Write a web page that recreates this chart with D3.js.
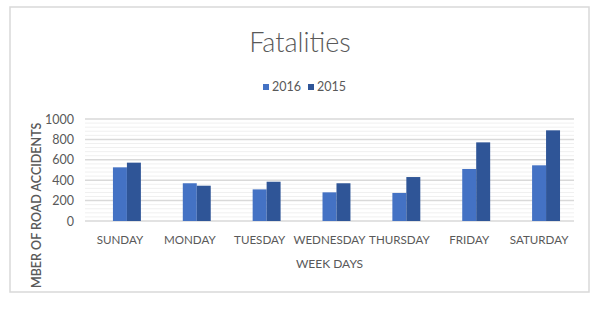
<!DOCTYPE html>
<html>
<head>
<meta charset="utf-8">
<script src="https://cdn.jsdelivr.net/npm/d3@7"></script>
<style>
  body { margin: 0; background: #fff; }
  text { font-family: Lato, "Open Sans", sans-serif; fill: #595959; }
</style>
</head>
<body>
<div id="chart"></div>
<script>
// Chart data
const days = ["SUNDAY", "MONDAY", "TUESDAY", "WEDNESDAY", "THURSDAY", "FRIDAY", "SATURDAY"];
const years = ["2016", "2015"];
const fatalities2016 = [526, 370, 310, 281, 275, 510, 546];
const fatalities2015 = [572, 346, 385, 370, 431, 771, 889];
const yTicks = [0, 200, 400, 600, 800, 1000];
const colors = ["#4472C4", "#2F5597"];

const width = 598;
const height = 311;

const svg = d3.select("#chart")
    .append("svg")
    .attr("width", width)
    .attr("height", height);

// outer chart border
svg.append("rect")
    .attr("x", 10)
    .attr("y", 7)
    .attr("width", 579)
    .attr("height", 285)
    .attr("fill", "#fff")
    .attr("stroke", "#d9d9d9")
    .attr("stroke-width", 1.5);

// plot area
const plot = { left: 85, right: 574, top: 119, bottom: 221 };

const x0 = d3.scaleBand()
    .domain(days)
    .range([plot.left, plot.right])
    .paddingInner(0.4)
    .paddingOuter(0.2);

// bars sit in the right two thirds of each group (first slot is empty in the original)
const x1 = d3.scaleBand()
    .domain(years)
    .range([x0.bandwidth() / 3, x0.bandwidth()]);

const y = d3.scaleLinear()
    .domain([0, 1000])
    .range([plot.bottom, plot.top]);

// minor gridlines
svg.append("g")
    .selectAll("line")
    .data(d3.range(0, 1001, 40).filter(v => v % 200 !== 0))
    .enter().append("line")
    .attr("x1", plot.left)
    .attr("x2", plot.right)
    .attr("y1", d => y(d))
    .attr("y2", d => y(d))
    .attr("stroke", "#f0f0f0")
    .attr("stroke-width", 1);

// major gridlines
svg.append("g")
    .selectAll("line")
    .data(yTicks)
    .enter().append("line")
    .attr("x1", plot.left)
    .attr("x2", plot.right)
    .attr("y1", d => y(d))
    .attr("y2", d => y(d))
    .attr("stroke", "#d9d9d9")
    .attr("stroke-width", 1.5);

// y axis labels
const yAxis = svg.append("g")
    .attr("transform", `translate(${plot.left - 11},0)`)
    .call(d3.axisLeft(y).tickValues(yTicks).tickFormat(d3.format("d")).tickSize(0).tickPadding(0));
yAxis.select(".domain").remove();
yAxis.selectAll("text")
    .style("font-size", "12.5px")
    .style("font-family", "Lato, sans-serif")
    .attr("fill", "#595959");

// x axis labels
const xAxis = svg.append("g")
    .attr("transform", `translate(0,${plot.bottom})`)
    .call(d3.axisBottom(x0).tickSize(0).tickPadding(15));
xAxis.select(".domain").remove();
xAxis.selectAll("text")
    .style("font-size", "11.6px")
    .style("font-family", "Lato, sans-serif")
    .attr("fill", "#595959");

// bars
const series = [fatalities2016, fatalities2015];
const groups = svg.append("g")
    .selectAll("g")
    .data(days)
    .enter().append("g")
    .attr("transform", d => `translate(${x0(d)},0)`);

groups.selectAll("rect")
    .data((d, i) => years.map((yr, k) => ({ year: yr, value: series[k][i], color: colors[k] })))
    .enter().append("rect")
    .attr("x", d => x1(d.year))
    .attr("y", d => y(d.value))
    .attr("width", x1.bandwidth())
    .attr("height", d => y(0) - y(d.value))
    .attr("fill", d => d.color);

// title
svg.append("text")
    .attr("x", 300)
    .attr("y", 52)
    .attr("text-anchor", "middle")
    .style("font-size", "27px")
    .style("font-weight", 300)
    .text("Fatalities");

// legend
const legend = svg.append("g");
const legendX = [263, 308];
years.forEach((yr, k) => {
    legend.append("rect")
        .attr("x", legendX[k])
        .attr("y", 84)
        .attr("width", 6)
        .attr("height", 6)
        .attr("fill", colors[k]);
    legend.append("text")
        .attr("x", legendX[k] + 9)
        .attr("y", 91)
        .style("font-size", "12.5px")
        .text(yr);
});

// axis titles
svg.append("text")
    .attr("x", (plot.left + plot.right) / 2)
    .attr("y", 268)
    .attr("text-anchor", "middle")
    .style("font-size", "12px")
    .text("WEEK DAYS");

svg.append("text")
    .attr("transform", "translate(41,288) rotate(-90)")
    .attr("text-anchor", "start")
    .style("font-size", "12.5px")
    .style("font-weight", 600)
    .text("MBER OF ROAD ACCIDENTS");
</script>
</body>
</html>
